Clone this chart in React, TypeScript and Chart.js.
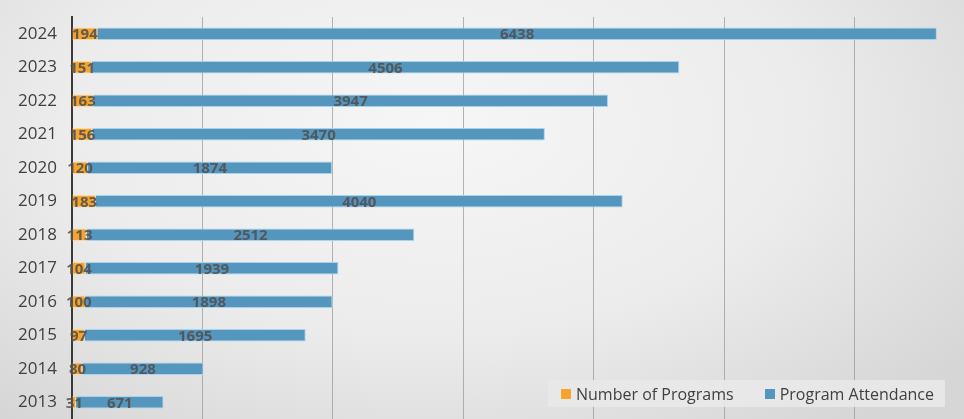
import React, { useEffect, useRef } from "react";
import { Chart, registerables } from "chart.js";

Chart.register(...registerables);

const years = ["2024", "2023", "2022", "2021", "2020", "2019", "2018", "2017", "2016", "2015", "2014", "2013"];
const programs = [194, 151, 163, 156, 120, 183, 113, 104, 100, 97, 80, 31];
const attendance = [6438, 4506, 3947, 3470, 1874, 4040, 2512, 1939, 1898, 1695, 928, 671];
const seriesNames = ["Number of Programs", "Program Attendance"];
const gridValues = [0, 1000, 2000, 3000, 4000, 5000, 6000];
const X_MAX = 6840;
const ORANGE = "#F5A52E";
const BLUE = "#5596BF";

const labelPlugin = {
  id: "segLabels",
  afterDatasetsDraw(chart: any) {
    const ctx = chart.ctx;
    ctx.save();
    ctx.font = "bold 15px 'Open Sans', 'Liberation Sans', sans-serif";
    ctx.fillStyle = "rgba(80,80,80,0.88)";
    ctx.textAlign = "center";
    ctx.textBaseline = "middle";
    chart.data.datasets.forEach((ds: any, di: number) => {
      const meta = chart.getDatasetMeta(di);
      meta.data.forEach((el: any, i: number) => {
        const x = (el.x + el.base) / 2;
        ctx.fillText(String(ds.data[i]), x, el.y + 1);
      });
    });
    ctx.restore();
  },
};

const zeroPad = (s: any) => {
  s.paddingTop = 0;
  s.paddingBottom = 0;
  s.paddingLeft = 0;
  s.paddingRight = 0;
};

export default function App() {
  const ref = useRef<HTMLCanvasElement>(null);
  useEffect(() => {
    document.body.style.margin = "0";
    const chart = new Chart(ref.current as HTMLCanvasElement, {
      type: "bar",
      data: {
        labels: years,
        datasets: [
          {
            label: seriesNames[0],
            data: programs,
            backgroundColor: ORANGE,
            borderColor: "rgba(255,214,150,0.9)",
            borderWidth: 1,
            barPercentage: 0.38,
            categoryPercentage: 1,
          },
          {
            label: seriesNames[1],
            data: attendance,
            backgroundColor: BLUE,
            borderColor: "#A9D3EA",
            borderWidth: 1,
            barPercentage: 0.38,
            categoryPercentage: 1,
          },
        ],
      },
      options: {
        indexAxis: "y",
        animation: false,
        responsive: false,
        maintainAspectRatio: false,
        layout: { autoPadding: false, padding: { top: 17, left: 0, right: 0, bottom: 0 } },
        plugins: { legend: { display: false }, tooltip: { enabled: false } },
        scales: {
          x: {
            stacked: true,
            bounds: "data",
            min: 0,
            max: X_MAX,
            ticks: { display: false },
            border: { display: false },
            grid: {
              drawTicks: false,
              color: "rgba(150,150,150,0.7)",
              lineWidth: 1,
            },
            afterBuildTicks: (s: any) => {
              s.min = 0;
              s.max = X_MAX;
              s.ticks = gridValues.map((v) => ({ value: v }));
            },
            afterFit: (s: any) => {
              s.height = 0;
              zeroPad(s);
            },
          },
          y: {
            stacked: true,
            ticks: {
              color: "#404040",
              padding: 15,
              font: { family: "'Open Sans', 'Liberation Sans', sans-serif", size: 17 },
            },
            grid: { display: false, drawTicks: false },
            border: { display: true, color: "#3a3a3a", width: 2 },
            afterFit: (s: any) => {
              s.width = 72;
              zeroPad(s);
            },
          },
        },
      },
      plugins: [labelPlugin],
    });
    return () => chart.destroy();
  }, []);

  const square = (color: string) => (
    <span style={{ width: 10, height: 10, background: color, display: "inline-block", marginRight: 5 }} />
  );

  return (
    <div
      style={{
        position: "relative",
        width: 964,
        height: 419,
        overflow: "hidden",
        background:
          "radial-gradient(ellipse 70% 90% at 45% 30%, #f6f6f6 0%, #ececec 55%, #d6d6d6 100%)",
      }}
    >
      <canvas ref={ref} width={964} height={419} style={{ display: "block" }} />
      <div
        style={{
          position: "absolute",
          left: 548,
          top: 380,
          width: 397,
          height: 27,
          background: "rgba(232,232,232,0.92)",
          display: "flex",
          alignItems: "center",
          paddingLeft: 13,
          boxSizing: "border-box",
          fontFamily: "'Open Sans', 'Liberation Sans', sans-serif",
          fontSize: 16,
          color: "#404040",
          whiteSpace: "nowrap",
        }}
      >
        {square(ORANGE)}
        <span style={{ marginRight: 31 }}>{seriesNames[0]}</span>
        {square(BLUE)}
        <span>{seriesNames[1]}</span>
      </div>
    </div>
  );
}
